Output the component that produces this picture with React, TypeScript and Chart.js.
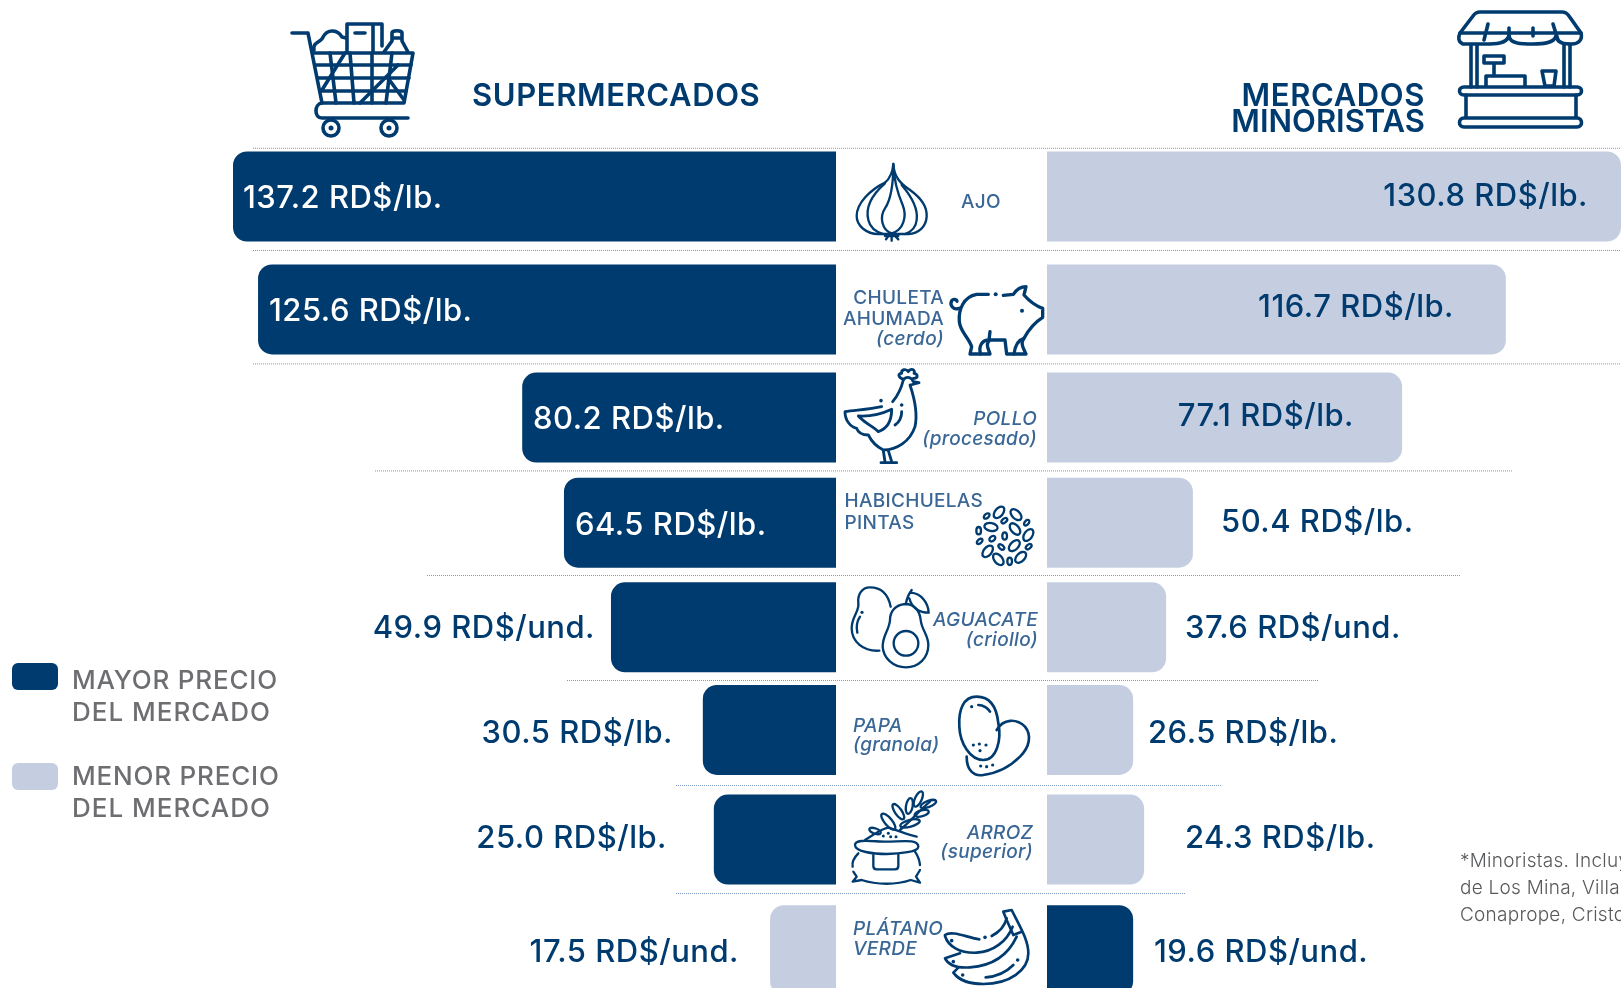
import React, { useEffect, useRef } from "react";
import { Chart, BarController, BarElement, LinearScale, CategoryScale } from "chart.js";

// ---------- data ----------
const productos = ["Ajo", "Chuleta ahumada (cerdo)", "Pollo (procesado)", "Habichuelas pintas", "Aguacate (criollo)", "Papa (granola)", "Arroz (superior)", "Plátano verde"];
const preciosSuper = [137.2, 125.6, 80.2, 64.5, 49.9, 30.5, 25.0, 17.5];
const preciosMinor = [130.8, 116.7, 77.1, 50.4, 37.6, 26.5, 24.3, 19.6];
const unidades = ["lb.", "lb.", "lb.", "lb.", "und.", "lb.", "lb.", "und."];
// The source bars are not drawn to scale with their printed prices: these are the lengths.
const barrasSuper = [137.2, 131.5, 71.4, 61.9, 51.2, 30.3, 27.8, 15.0];
const barrasMinor = [130.6, 104.4, 80.8, 33.2, 27.1, 19.6, 22.1, 19.6];
const titulos = ["SUPERMERCADOS", "MERCADOS", "MINORISTAS"];
const leyenda = [["MAYOR PRECIO", "DEL MERCADO"], ["MENOR PRECIO", "DEL MERCADO"]];
const nota = ["*Minoristas. Incluye", "de Los Mina, Villa", "Conaprope, Cristo"];

// ---------- layout and style ----------
const W = 1621, H = 988;
const DARK = "#003B6F", LIGHT = "#C5CEE1", CAT = "#3A6796", GREY = "#6D6E71", NOTE = "#58595B", RULE = "#7F9AC0";
const PXU = 4.395, ZERO_L = 836, ZERO_R = 1047;
const FONT = "Inter";
const rowNudge = [0.7, 8, 10.5, 10, 9, 6, 10, 15];
const leftLabels = [
  { x: 243, align: "left", dy: 2.5, color: "#fff" }, { x: 269, align: "left", dy: 2.5, color: "#fff" },
  { x: 533, align: "left", dy: 2.5, color: "#fff" }, { x: 575, align: "left", dy: 2.5, color: "#fff" },
  { x: 595, align: "right", dy: 1.5, color: DARK }, { x: 673, align: "right", dy: 3.5, color: DARK },
  { x: 667, align: "right", dy: -0.5, color: DARK }, { x: 739, align: "right", dy: 2.5, color: DARK },
];
const rightLabels = [
  { x: 1588, align: "right", dy: 0.5 }, { x: 1454, align: "right", dy: -1.5 }, { x: 1354, align: "right", dy: -0.5 },
  { x: 1221, align: "left", dy: -0.5 }, { x: 1185, align: "left", dy: 1.5 }, { x: 1148, align: "left", dy: 3.5 },
  { x: 1185, align: "left", dy: -0.5 }, { x: 1154, align: "left", dy: 2.5 },
];
const catLabels = [
  { x: 961, align: "left", italic: [], lines: [["AJO", 202.5]] },
  { x: 944, align: "right", italic: [2], lines: [["CHULETA", 298.5], ["AHUMADA", 319.5], ["(cerdo)", 339.5]] },
  { x: 1037, align: "right", italic: [0, 1], lines: [["POLLO", 419.5], ["(procesado)", 439.5]] },
  { x: 844.5, align: "left", italic: [], lines: [["HABICHUELAS", 501.5], ["PINTAS", 523.5]] },
  { x: 1038, align: "right", italic: [0, 1], lines: [["AGUACATE", 620.5], ["(criollo)", 640.5]] },
  { x: 853, align: "left", italic: [0, 1], lines: [["PAPA", 726.5], ["(granola)", 745.5]] },
  { x: 1033, align: "right", italic: [0, 1], lines: [["ARROZ", 833], ["(superior)", 852]] },
  { x: 853, align: "left", italic: [0, 1], lines: [["PLÁTANO", 929.5], ["VERDE", 949.5]] },
];
const rules = [[147.8, 253, 1621], [250, 253, 1621], [363.4, 253, 1621], [470.4, 375, 1512], [575, 427, 1460], [680, 567, 1318], [785, 676, 1221], [893, 676, 1185]];

function paths(ctx: CanvasRenderingContext2D, ox: number, oy: number, sx: number, sy: number, list: string[], lw: number) {
  ctx.save();
  ctx.translate(ox, oy);
  ctx.scale(sx, sy);
  ctx.strokeStyle = DARK;
  ctx.lineWidth = lw;
  ctx.lineCap = "round";
  ctx.lineJoin = "round";
  list.forEach((d) => ctx.stroke(new Path2D(d)));
  ctx.restore();
}
function dots(ctx: CanvasRenderingContext2D, ox: number, oy: number, s: number, list: number[][], r: number) {
  ctx.save();
  ctx.fillStyle = DARK;
  list.forEach(([x, y]) => { ctx.beginPath(); ctx.arc(ox + x * s, oy + y * s, r, 0, Math.PI * 2); ctx.fill(); });
  ctx.restore();
}
function ell(ctx: CanvasRenderingContext2D, ox: number, oy: number, s: number, list: number[][], lw: number) {
  ctx.save();
  ctx.translate(ox, oy);
  ctx.scale(s, s);
  ctx.strokeStyle = DARK;
  ctx.lineWidth = lw;
  list.forEach(([x, y, a, b, rot]) => { ctx.beginPath(); ctx.ellipse(x, y, a, b, (rot * Math.PI) / 180, 0, Math.PI * 2); ctx.stroke(); });
  ctx.restore();
}

function drawIcons(ctx: CanvasRenderingContext2D) {
  const t = 1 / 3;
  // cart
  paths(ctx, 0, 0, 1, 1, [
    "M292 33 L308 33 L322 103 C314 104 314 118 322 118 L408 118",
    "M313 53 L413 53 L404 103 L321 103",
    "M316 65 L411 65 M318 78 L409 78 M320 91 L406 91",
    "M330 53 L336 103 M350 53 L354 103 M372 53 L372 103 M392 53 L386 103",
    "M322 90 L345 53 M360 103 L398 65 M388 78 L404 100",
    "M314 50 C312 42 322 42 323 37 C328 28 338 30 342 37 L346 38",
    "M347 52 L347 24 L382 24 L382 46 M373 24 L373 52 M355 33 L365 33",
    "M384 52 L392 41 L392 33 C392 30 402 30 402 33 L402 41 L408 52 M392 38 L402 38",
    "M339 128 A8 8 0 1 1 323 128 A8 8 0 1 1 339 128 M397 128 A8 8 0 1 1 381 128 A8 8 0 1 1 397 128",
  ], 3.6);
  dots(ctx, 0, 0, 1, [[331, 128], [389, 128]], 2.5);
  // stall
  paths(ctx, 0, 0, 1, 1, [
    "M1460 33 L1473 16 C1475 13 1477 12 1480 12 L1562 12 C1565 12 1567 13 1569 16 L1581 33 C1583 40 1578 44 1572 44 C1565 44 1558 44 1556 36 C1554 44 1540 44 1533 44 C1522 44 1510 44 1509 36 C1506 44 1495 44 1485 44 C1480 44 1470 44 1463 44 C1458 42 1458 37 1460 33 Z",
    "M1460 33 L1581 33 M1488 24 L1484 40 M1509 28 L1509 36 M1533 28 L1533 36 M1553 24 L1558 40",
    "M1471 45 L1471 87 M1477 45 L1477 87 M1570 45 L1570 87 M1564 45 L1564 87",
    "M1464 87 L1577 87 C1583 87 1583 95 1577 95 L1464 95 C1458 95 1458 87 1464 87 Z",
    "M1466 95 L1466 117 M1576 95 L1576 117",
    "M1464 118 L1577 118 C1583 118 1583 127 1577 127 L1464 127 C1458 127 1458 118 1464 118 Z",
    "M1484 56 L1504 56 L1504 63 L1484 63 Z M1494 63 L1494 75 M1486 86 L1486 76 L1525 76 L1525 86",
    "M1542 71 L1556 71 L1554 86 L1545 86 Z",
  ], 3.6);
  // garlic
  paths(ctx, 820, 140, t, t, [
    "M220 72 C222 110 240 130 270 150 C305 175 322 200 320 230 C318 262 295 280 265 282 L175 282 C140 282 110 258 110 228 C110 190 150 150 195 128 C210 115 218 95 220 72 Z",
    "M195 130 C155 165 135 200 145 240 C150 262 165 275 190 282",
    "M220 72 C222 130 235 165 248 195 C262 230 250 270 215 280 C185 270 178 230 195 205 C212 180 220 140 220 72",
    "M245 135 C275 170 295 205 290 240 C288 262 275 275 255 282",
    "M195 288 L235 288 M215 285 L215 302 M205 288 L198 298 M225 288 L235 298",
  ], 7);
  // pig
  paths(ctx, 820, 140, t, t, [
    "M505 463 L470 463 C430 470 415 510 418 545 C420 575 445 590 455 620 L450 642 L510 642 C505 625 495 612 510 600 L555 600 L560 642 L618 642 C610 625 600 610 612 595 C625 570 640 550 668 532 L668 505 C640 495 625 480 612 465 L618 440 C600 440 590 448 580 463 L550 466",
    "M418 505 C400 512 388 495 395 482 C400 476 410 478 411 484",
    "M510 575 L507 600 C485 600 475 620 482 642 M582 642 C585 615 595 600 612 595",
  ], 10);
  dots(ctx, 820, 140, t, [[527, 463], [606, 512]], 2);
  // chicken
  paths(ctx, 820, 140, t, t, [
    "M185 800 C150 808 110 810 75 815 C75 840 90 860 110 865 C115 880 130 885 145 885 C155 905 170 920 190 930 C230 930 270 905 285 860 C295 815 280 765 270 735",
    "M218 785 C235 765 245 740 250 720",
    "M115 828 C150 830 190 820 215 808 C215 840 205 865 175 875 C160 860 135 850 115 828",
    "M245 815 C245 835 235 848 225 855",
    "M250 718 C235 712 232 700 245 700 C243 688 258 685 265 695 C272 682 288 690 282 700 C295 702 295 716 280 715",
    "M250 718 C262 708 275 712 280 725 L297 728 L272 735",
    "M190 932 L195 965 M205 932 L215 965 M183 968 L230 968",
  ], 8.5);
  dots(ctx, 820, 140, t, [[183, 782], [245, 795]], 1.8);
  // beans
  ell(ctx, 820, 470, t, [
    [537, 127, 20, 12, -50], [588, 134, 20, 12, 45], [500, 138, 10, 6, -40], [553, 152, 10, 6, -40], [620, 158, 10, 6, -50],
    [513, 171, 20, 12, 10], [585, 177, 20, 12, 50], [625, 195, 20, 12, -55], [476, 182, 11, 7, 90], [554, 198, 11, 7, 90],
    [517, 206, 10, 7, -40], [479, 214, 10, 6, -40], [583, 227, 20, 12, -45], [544, 231, 10, 6, 40], [626, 230, 10, 6, -40],
    [503, 244, 20, 12, -50], [535, 268, 20, 12, 50], [569, 274, 11, 7, 90], [602, 262, 20, 12, -45],
  ], 7);
  // avocado
  paths(ctx, 820, 470, t, t, [
    "M212 410 C205 375 185 352 150 352 C125 352 112 375 115 400 C118 425 95 440 95 475 C95 515 130 545 178 542",
    "M120 440 C110 455 108 470 112 488",
    "M255 402 C225 405 210 425 210 450 C208 480 188 495 188 530 C190 565 220 592 258 592 C295 592 325 565 325 525 C325 495 305 480 302 450 C300 425 285 402 255 402 Z",
    "M295 520 A37 37 0 1 1 221 520 A37 37 0 1 1 295 520",
    "M258 400 C260 385 268 370 275 360 M272 368 C305 370 325 400 326 428 C300 428 275 415 268 385",
  ], 7);
  dots(ctx, 820, 470, t, [[126, 427]], 1.6);
  // potato
  paths(ctx, 820, 470, t, t, [
    "M470 680 C430 680 415 720 418 770 C420 820 450 870 490 870 C530 870 545 810 535 760 C530 710 510 680 470 680 Z",
    "M530 780 C550 745 590 745 615 770 C635 795 630 830 600 860 C570 890 530 910 490 915 C460 920 440 900 440 860",
    "M475 705 C490 705 505 715 510 725",
  ], 8);
  dots(ctx, 820, 470, t, [[455, 710], [460, 825], [478, 822], [498, 825], [480, 842], [482, 888], [500, 890], [518, 885]], 1.6);
  // rice sack
  paths(ctx, 820, 730, t, t, [
    "M105 345 C105 325 160 335 200 335 C240 335 295 325 295 350 C295 365 240 372 200 372 C160 372 105 365 105 345 Z",
    "M115 370 C100 385 95 395 98 410 M285 365 C292 375 298 388 300 405",
    "M100 425 L110 440 L98 455 L125 450 C170 465 230 465 272 450 L300 458 L288 440 L300 420",
    "M160 375 L160 408 C160 415 165 418 170 418 L225 418 C232 418 235 415 235 408 L235 375",
    "M135 330 C160 315 185 295 205 293 C230 300 265 315 290 320",
    "M240 300 C270 275 300 240 330 215",
  ], 7);
  dots(ctx, 820, 730, t, [[190, 318], [205, 310], [212, 320], [228, 320]], 1.5);
  ell(ctx, 820, 730, t, [
    [165, 303, 18, 8, 20], [205, 275, 30, 11, 50], [235, 245, 27, 10, 55], [268, 228, 24, 10, -80],
    [295, 207, 25, 10, -65], [325, 222, 25, 9, -20], [305, 250, 22, 9, -15], [270, 280, 30, 10, -15],
  ], 7);
  // banana
  paths(ctx, 820, 730, t, t, [
    "M375 615 C395 600 440 622 478 628 M515 618 C540 605 555 585 560 565",
    "M375 618 C385 650 420 670 470 668 C520 665 560 635 578 590",
    "M420 670 L375 685 C385 705 410 715 450 712 C510 708 560 685 590 620",
    "M415 713 L400 728 C420 755 450 762 490 762 C570 762 625 720 625 670 C625 630 600 590 575 540 L550 545 L560 570 L580 615 L605 605",
    "M497 742 C530 740 560 725 580 705",
  ], 8);
  dots(ctx, 820, 730, t, [[495, 622], [395, 632], [400, 695], [428, 735], [593, 690]], 1.8);
}

function txt(ctx: CanvasRenderingContext2D, s: string, x: number, y: number, font: string, color: string, align: string, spacing = "0px") {
  ctx.save();
  ctx.font = font;
  ctx.fillStyle = color;
  ctx.textAlign = align as CanvasTextAlign;
  ctx.textBaseline = "middle";
  (ctx as any).letterSpacing = spacing;
  ctx.fillText(s, x, y);
  ctx.restore();
}

const infographic = {
  id: "infographic",
  afterDatasetsDraw(chart: any) {
    const ctx: CanvasRenderingContext2D = chart.ctx;
    const metaL = chart.getDatasetMeta(0).data;
    const metaR = chart.getDatasetMeta(1).data;
    // dotted separators
    ctx.save();
    ctx.strokeStyle = RULE;
    ctx.lineWidth = 1;
    ctx.setLineDash([1, 1]);
    rules.forEach(([y, a, b]) => { ctx.beginPath(); ctx.moveTo(a, y + 0.5); ctx.lineTo(b, y + 0.5); ctx.stroke(); });
    ctx.restore();
    // values
    const valFont = `500 31px ${FONT}`;
    productos.forEach((_, i) => {
      const l = leftLabels[i], r = rightLabels[i];
      txt(ctx, `${preciosSuper[i].toFixed(1)} RD$/${unidades[i]}`, l.x, metaL[i].y + l.dy, valFont, l.color, l.align, "0.5px");
      txt(ctx, `${preciosMinor[i].toFixed(1)} RD$/${unidades[i]}`, r.x, metaR[i].y + r.dy, valFont, DARK, r.align, "0.5px");
    });
    // category names
    catLabels.forEach((c) => c.lines.forEach(([s, y]: any, j: number) => {
      const it = c.italic.includes(j) ? "italic " : "";
      txt(ctx, s, c.x, y, `${it}500 19px ${FONT}`, CAT, c.align, "0.3px");
    }));
    // headings
    const head = `600 31px ${FONT}`;
    txt(ctx, titulos[0], 472, 96.5, head, DARK, "left", "0.6px");
    txt(ctx, titulos[1], 1425, 96.5, head, DARK, "right", "0.6px");
    txt(ctx, titulos[2], 1425, 122.5, head, DARK, "right", "0px");
    // legend
    [[DARK, 681, 713], [LIGHT, 777, 809]].forEach(([col, y1, y2]: any, i) => {
      const top = i === 0 ? 663 : 763;
      ctx.fillStyle = col;
      ctx.beginPath();
      ctx.roundRect(12, top, 46, 27, 6);
      ctx.fill();
      txt(ctx, leyenda[i][0], 72, y1, `500 26px ${FONT}`, GREY, "left", "0.8px");
      txt(ctx, leyenda[i][1], 72, y2, `500 26px ${FONT}`, GREY, "left", "1px");
    });
    // footnote
    nota.forEach((s, i) => txt(ctx, s, 1460, 861 + i * 27, `300 19px ${FONT}`, NOTE, "left", "0.25px"));
    drawIcons(ctx);
  },
};

class RowScale extends CategoryScale {
  static id = "rowScale";
  static defaults = CategoryScale.defaults;
  getPixelForValue(value: any) {
    const v = typeof value === "number" ? value : (this as any).parse(value);
    return super.getPixelForValue(v) + (rowNudge[Math.round(v)] ?? 0);
  }
}

Chart.register(BarController, BarElement, LinearScale, CategoryScale, RowScale as any);

export default function App() {
  const ref = useRef<HTMLCanvasElement>(null);
  useEffect(() => {
    const colour = (own: number[], other: number[]) => (c: any) => (own[c.dataIndex] >= other[c.dataIndex] ? DARK : LIGHT);
    const shared = { barThickness: 90, borderRadius: 14, inflateAmount: 0, yAxisID: "y" };
    const chart = new Chart(ref.current!, {
      type: "bar",
      data: {
        labels: productos,
        datasets: [
          { label: "Supermercados", data: barrasSuper, xAxisID: "xL", backgroundColor: colour(preciosSuper, preciosMinor), ...shared },
          { label: "Mercados minoristas", data: barrasMinor, xAxisID: "xR", backgroundColor: colour(preciosMinor, preciosSuper), ...shared },
        ],
      } as any,
      options: {
        indexAxis: "y",
        responsive: false,
        animation: false,
        layout: { padding: { top: 143, left: 0, right: 0, bottom: 0 } },
        plugins: { legend: { display: false }, tooltip: { enabled: false } },
        datasets: { bar: { grouped: false } },
        scales: {
          y: { type: "rowScale", display: false, offset: true },
          xL: { type: "linear", display: false, reverse: true, min: -(W - ZERO_L) / PXU, max: ZERO_L / PXU },
          xR: { type: "linear", display: false, min: -ZERO_R / PXU, max: (W - ZERO_R) / PXU },
        },
      } as any,
      plugins: [infographic],
    });
    return () => chart.destroy();
  }, []);
  return (
    <div style={{ position: "absolute", left: 0, top: 0, width: W, height: H, overflow: "hidden", background: "#fff" }}>
      <canvas ref={ref} width={W} height={H} style={{ display: "block" }} />
    </div>
  );
}
